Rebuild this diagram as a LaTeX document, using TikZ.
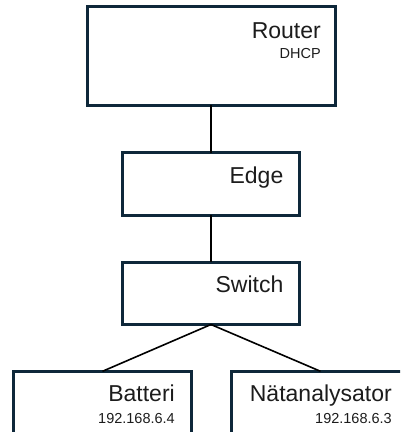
\documentclass[tikz,border=0pt]{standalone}
\usepackage{fontspec}
\setmainfont{Liberation Sans}
\usepackage{tikz}

\definecolor{boxblue}{RGB}{14,40,58}
\definecolor{txtgray}{RGB}{28,28,28}

\tikzset{
  box/.style={draw=boxblue, line width=3pt, inner sep=0pt, outer sep=0pt},
  title/.style={anchor=base east, inner sep=0pt, text=txtgray, font=\fontsize{23}{27}\selectfont},
  sub/.style={anchor=base east, inner sep=0pt, text=txtgray, font=\fontsize{14.5}{17}\selectfont},
  link/.style={draw=black, line width=1.6pt}
}

\begin{document}
\begin{tikzpicture}[x=1pt,y=-1pt]
            \useasboundingbox (0,0) rectangle (400,432);
            \clip (0,0) rectangle (400,432);
            \node[box, minimum width=248pt, minimum height=98.5pt] at (211,55.75) (router) {};
            \node[box, minimum width=177.5pt, minimum height=62.5pt] at (211,183.75) (edge) {};
            \node[box, minimum width=177.5pt, minimum height=62.5pt] at (211,293.25) (switch) {};
            \node[box, minimum width=177.6pt, minimum height=120pt] at (102.5,431.3) (batteri) {};
            \node[box, minimum width=177.6pt, minimum height=120pt] at (320.5,431.3) (natanalys) {};
            \node[title] at (321,38) (routername) {Router};
            \node[sub] at (321,58.3) (routerdhcp) {DHCP};
            \node[title] at (283.5,183) (edgename) {Edge};
            \node[title] at (283.5,292.7) (switchname) {Switch};
            \node[title] at (175,401.7) (batteriname) {Batteri};
            \node[sub] at (175,423.3) (batteriip) {192.168.6.4};
            \node[title] at (392,401.7) (natanalysname) {Nätanalysator};
            \node[sub] at (392,423.3) (natanalysip) {192.168.6.3};
            \draw[link] (router.south) to (edge.north);
            \draw[link] (edge.south) to (switch.north);
            \draw[link] (switch.south) to (batteri.north);
            \draw[link] (switch.south) to (natanalys.north);
        \end{tikzpicture}
\end{document}
